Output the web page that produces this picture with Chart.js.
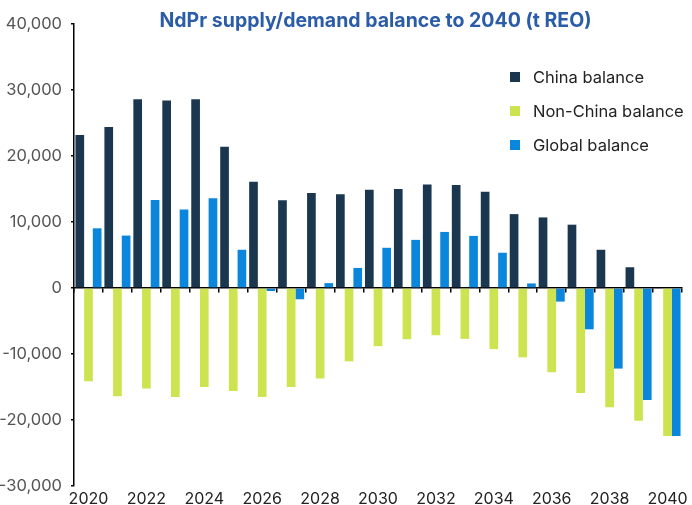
<!DOCTYPE html>
<html>
<head>
<meta charset="utf-8">
<script src="https://cdn.jsdelivr.net/npm/chart.js@4/dist/chart.umd.min.js"></script>
<style>
  html, body { margin: 0; padding: 0; background: #ffffff; }
  #wrap { width: 692px; height: 505px; position: relative; }
</style>
</head>
<body>
<div id="wrap"><canvas id="c" width="692" height="505"></canvas></div>
<script>
// ---- data ----
const chartTitle = "NdPr supply/demand balance to 2040 (t REO)";
const years = ["2020","2021","2022","2023","2024","2025","2026","2027","2028","2029","2030",
               "2031","2032","2033","2034","2035","2036","2037","2038","2039","2040"];
const chinaBalance = [23200, 24400, 28600, 28400, 28600, 21400, 16100, 13300, 14400, 14200, 14900,
                      15000, 15700, 15600, 14600, 11200, 10700, 9600, 5800, 3150, 0];
const nonChinaBalance = [-14100, -16400, -15200, -16500, -15000, -15600, -16500, -15000, -13700, -11100, -8800,
                         -7750, -7150, -7700, -9250, -10500, -12750, -15900, -18050, -20100, -22400];
const globalBalance = [9050, 7950, 13350, 11900, 13600, 5800, -450, -1700, 750, 3050, 6100,
                       7300, 8500, 7900, 5350, 700, -2050, -6250, -12200, -16950, -22400];
const seriesNames = ["China balance", "Non-China balance", "Global balance"];
const yTicks = [-30000, -20000, -10000, 0, 10000, 20000, 30000, 40000];

const FONT = "Inter, 'Noto Sans', sans-serif";
const colors = ["#1b374f", "#cde34f", "#0b86dd"];

const overlayPlugin = {
  id: 'overlay',
  afterDraw(chart) {
    const ctx = chart.ctx;
    const ca = chart.chartArea;
    ctx.save();
    // title
    ctx.fillStyle = "#2b5ca8";
    ctx.font = "bold 19.5px " + FONT;
    ctx.textAlign = "center";
    ctx.textBaseline = "middle";
    ctx.fillText(chartTitle, 375.5, 21);
    // legend
    ctx.font = "16.5px " + FONT;
    ctx.textAlign = "left";
    chart.data.datasets.forEach((ds, i) => {
      const yc = 77 + i * 34;
      ctx.fillStyle = ds.backgroundColor;
      ctx.fillRect(510, yc - 5, 10, 10);
      ctx.fillStyle = "#222222";
      ctx.fillText(ds.label, 533, yc + 1);
    });
    ctx.restore();
  }
};

new Chart(document.getElementById('c'), {
  type: 'bar',
  data: {
    labels: years,
    datasets: [
      { label: seriesNames[0], data: chinaBalance, backgroundColor: colors[0] },
      { label: seriesNames[1], data: nonChinaBalance, backgroundColor: colors[1] },
      { label: seriesNames[2], data: globalBalance, backgroundColor: colors[2] }
    ]
  },
  options: {
    responsive: false,
    animation: false,
    layout: { padding: { top: 24, right: 10, left: 0, bottom: 0 } },
    datasets: { bar: { barPercentage: 1.0, categoryPercentage: 0.9, borderWidth: 0 } },
    plugins: { legend: { display: false }, title: { display: false }, tooltip: { enabled: false } },
    scales: {
      x: {
        position: 'bottom',
        grid: { display: false, drawTicks: false, tickLength: 0 },
        border: { display: false },
        ticks: {
          autoSkip: false, maxRotation: 0, padding: 3,
          color: "#222222", font: { family: FONT, size: 16 },
          callback: function(v, i) { return i % 2 === 0 ? this.getLabelForValue(v) : ''; }
        },
        afterFit: s => { s.height = 18; }
      },
      x2: {
        type: 'category',
        labels: years,
        position: { y: 0 },
        offset: true,
        grid: { offset: true, drawOnChartArea: false, drawTicks: true, tickLength: 4, color: "#000000", lineWidth: 1.5 },
        border: { display: true, color: "#000000", width: 1.5 },
        ticks: { display: false }
      },
      y: {
        min: -30000, max: 40000,
        afterBuildTicks: s => { s.ticks = yTicks.map(v => ({ value: v })); },
        grid: { drawOnChartArea: false, drawTicks: true, tickLength: 3, color: "#000000", lineWidth: 1.5 },
        border: { display: true, color: "#000000", width: 1.5 },
        ticks: {
          padding: 9, color: "#555555", font: { family: FONT, size: 16.5 },
          callback: v => v.toLocaleString('en-US')
        },
        afterFit: s => { s.width = 74; }
      }
    }
  },
  plugins: [overlayPlugin]
});
</script>
</body>
</html>
